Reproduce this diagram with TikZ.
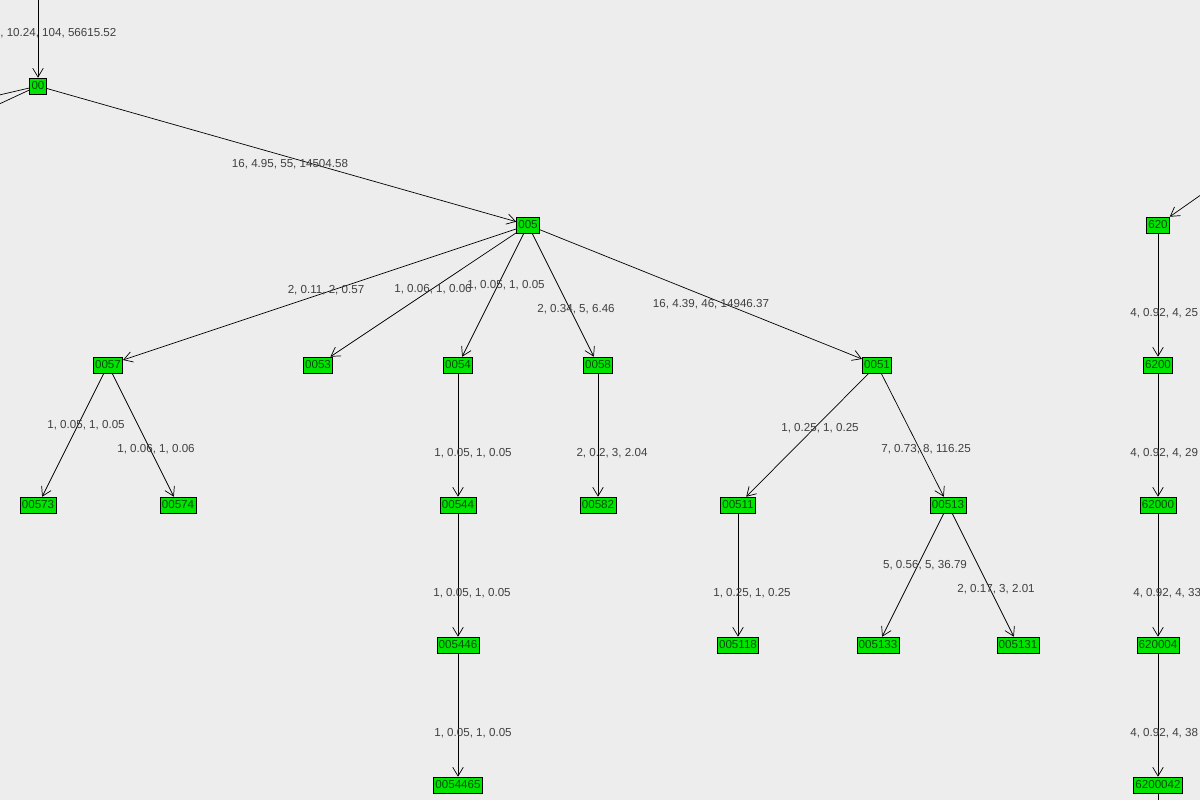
\documentclass[tikz,border=0pt]{standalone}
\usepackage{fontspec}
\setmainfont{Liberation Sans}
\usetikzlibrary{arrows.meta}

\begin{document}
\begin{tikzpicture}
[x=0.02cm,y=-0.02cm,thin,%
  box/.style={draw,fill=green!90!black,inner sep=1pt,minimum height=9pt,text=black!70!green},%
  lab/.style={text=black!75,inner sep=0pt},%
  >={Straight Barb[length=5pt,width=6pt]}]
\fill[black!7] (0,0) rectangle (1200,800);
\clip (0,0) rectangle (1200,800);
\fontsize{6.6}{8}\selectfont
% nodes
\node[box] (00) at (38,86) {00};
\node[box] (005) at (528,225) {005};
\node[box] (0057) at (108,365) {0057};
\node[box] (0053) at (318,365) {0053};
\node[box] (0054) at (458,365) {0054};
\node[box] (0058) at (598,365) {0058};
\node[box] (0051) at (877,365) {0051};
\node[box] (00573) at (38,505) {00573};
\node[box] (00574) at (178,505) {00574};
\node[box] (00544) at (458,505) {00544};
\node[box] (00582) at (598,505) {00582};
\node[box] (00511) at (738,505) {00511};
\node[box] (00513) at (948,505) {00513};
\node[box] (005446) at (458,645) {005446};
\node[box] (005118) at (738,645) {005118};
\node[box] (005133) at (878,645) {005133};
\node[box] (005131) at (1018,645) {005131};
\node[box] (0054465) at (458,785) {0054465};
\node[box] (620) at (1158,225) {620};
\node[box] (6200) at (1158,365) {6200};
\node[box] (62000) at (1158,505) {62000};
\node[box] (620004) at (1158,645) {620004};
\node[box] (6200042) at (1158,785) {6200042};
\coordinate (top) at (38,-5);
\coordinate (left1) at (-5,96);
\coordinate (left2) at (-5,106);
\coordinate (right) at (1205,192);
\coordinate (bottom) at (1158,805);
% edges
\draw[->] (top) -- (00);
\draw (00) -- (left1);
\draw (00) -- (left2);
\draw[->] (00) -- (005);
\foreach \a/\b in {005/0057,005/0053,005/0054,005/0058,005/0051,
  0057/00573,0057/00574,0054/00544,0058/00582,0051/00511,0051/00513,
  00544/005446,00511/005118,00513/005133,00513/005131,005446/0054465,
  620/6200,6200/62000,62000/620004,620004/6200042}
  \draw[->] (\a) -- (\b);
\draw[->] (right) -- (620);
\draw (6200042) -- (bottom);
% labels
\node[lab,anchor=west] (l0) at (0,33) {, 10.24, 104, 56615.52};
\node[lab] (l1) at (290,164) {16, 4.95, 55, 14504.58};
\node[lab] (l2) at (326,290) {2, 0.11, 2, 0.57};
\node[lab] (l3) at (433,289) {1, 0.06, 1, 0.06};
\node[lab] (l4) at (506,285) {1, 0.05, 1, 0.05};
\node[lab] (l5) at (576,309) {2, 0.34, 5, 6.46};
\node[lab] (l6) at (711,304) {16, 4.39, 46, 14946.37};
\node[lab] (l7) at (86,425) {1, 0.05, 1, 0.05};
\node[lab] (l8) at (156,449) {1, 0.06, 1, 0.06};
\node[lab] (l9) at (473,453) {1, 0.05, 1, 0.05};
\node[lab] (l10) at (612,453) {2, 0.2, 3, 2.04};
\node[lab] (l11) at (820,428) {1, 0.25, 1, 0.25};
\node[lab] (l12) at (926,449) {7, 0.73, 8, 116.25};
\node[lab] (l13) at (472,593) {1, 0.05, 1, 0.05};
\node[lab] (l14) at (752,593) {1, 0.25, 1, 0.25};
\node[lab] (l15) at (925,565) {5, 0.56, 5, 36.79};
\node[lab] (l16) at (996,589) {2, 0.17, 3, 2.01};
\node[lab] (l17) at (473,733) {1, 0.05, 1, 0.05};
\node[lab,anchor=west] (l18) at (1130,313) {4, 0.92, 4, 25};
\node[lab,anchor=west] (l19) at (1130,453) {4, 0.92, 4, 29};
\node[lab,anchor=west] (l20) at (1133,593) {4, 0.92, 4, 33};
\node[lab,anchor=west] (l21) at (1130,733) {4, 0.92, 4, 38};
\end{tikzpicture}
\end{document}
